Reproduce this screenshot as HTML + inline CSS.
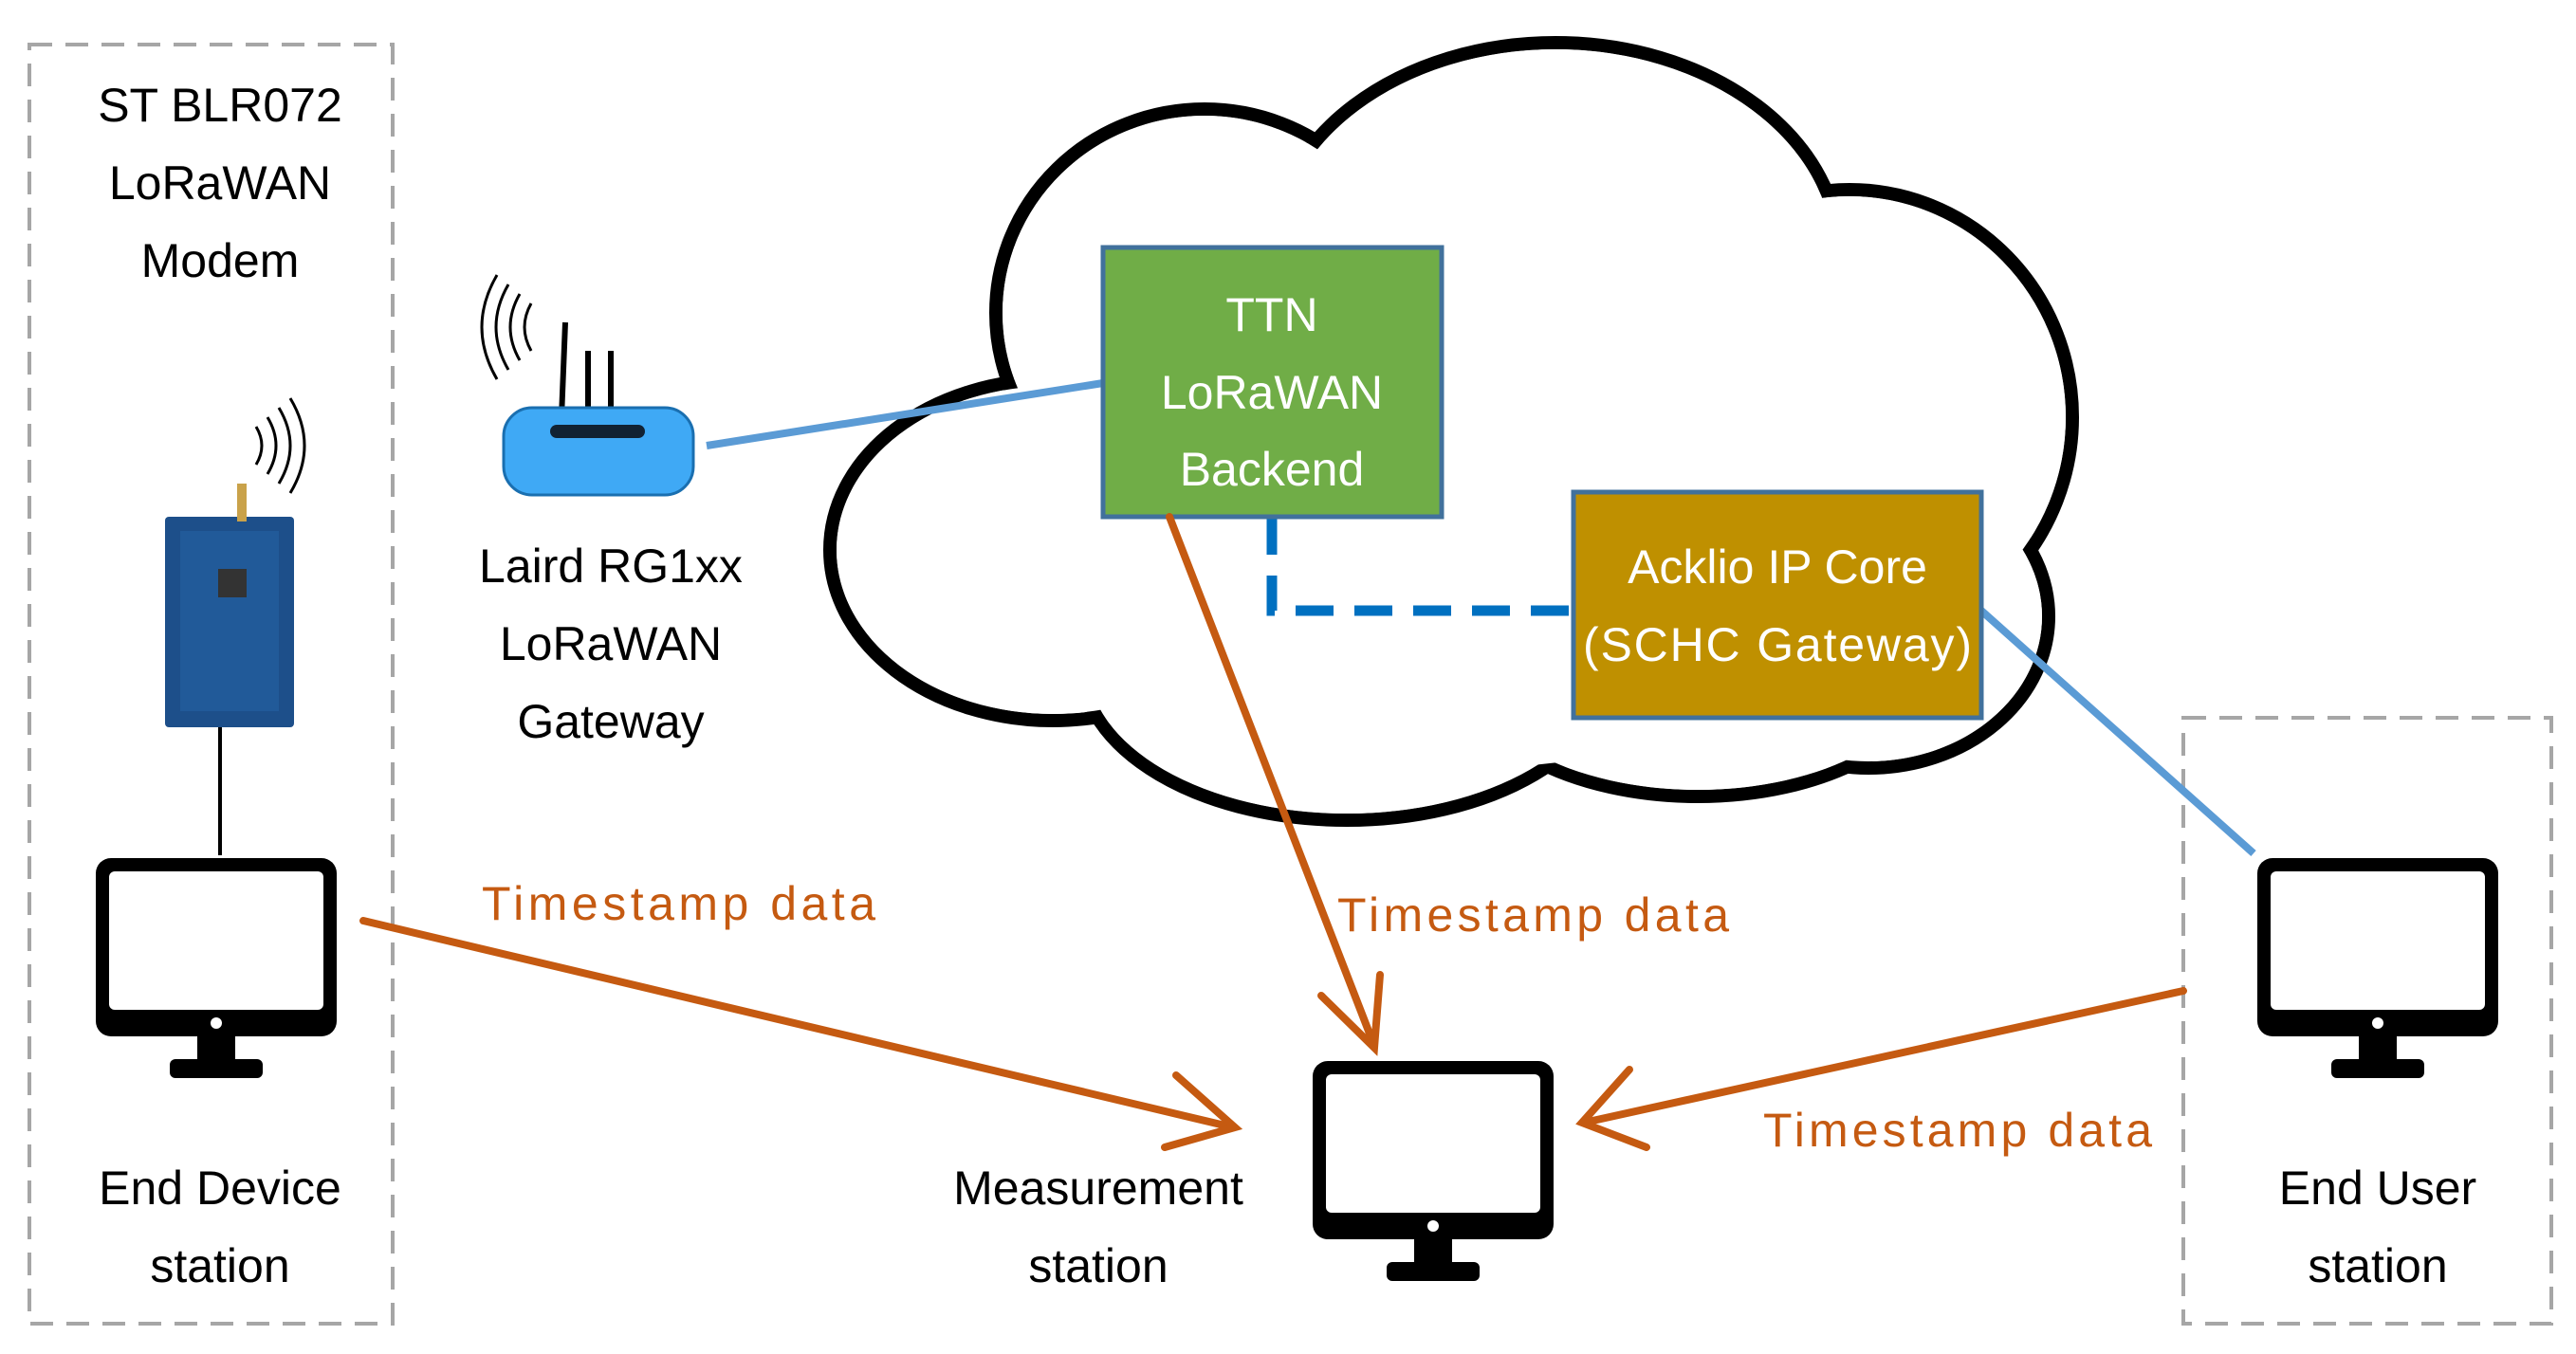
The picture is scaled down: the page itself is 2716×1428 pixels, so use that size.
<!DOCTYPE html>
<html><head><meta charset="utf-8"><style>
html,body{margin:0;padding:0;background:#fff;}
svg{display:block;}
text{font-family:"Liberation Sans",sans-serif;}
</style></head><body>
<svg width="2716" height="1428" viewBox="0 0 2716 1428" xmlns="http://www.w3.org/2000/svg">
<defs>
<g id="mon">
  <rect x="0" y="0" width="254" height="188" rx="16" fill="#000"/>
  <rect x="14" y="14" width="226" height="146" rx="6" fill="#fff"/>
  <circle cx="127" cy="174" r="6" fill="#fff"/>
  <rect x="107" y="188" width="40" height="28" fill="#000"/>
  <rect x="78" y="212" width="98" height="20" rx="6" fill="#000"/>
</g>
</defs>

<rect x="31" y="47" width="383" height="1349" fill="none" stroke="#a6a6a6" stroke-width="4" stroke-dasharray="24,14"/>
<rect x="2302" y="757" width="388" height="639" fill="none" stroke="#a6a6a6" stroke-width="4" stroke-dasharray="24,14"/>

<g stroke="#000" stroke-width="14" fill="#fff">
  <ellipse cx="1110" cy="580" rx="235" ry="180"/>
  <ellipse cx="1270" cy="330" rx="220" ry="215"/>
  <ellipse cx="1640" cy="270" rx="300" ry="225"/>
  <ellipse cx="1950" cy="440" rx="235" ry="240"/>
  <ellipse cx="1970" cy="650" rx="190" ry="160"/>
  <ellipse cx="1790" cy="700" rx="250" ry="140"/>
  <ellipse cx="1420" cy="700" rx="280" ry="165"/>
</g>
<g fill="#fff">
  <ellipse cx="1110" cy="580" rx="228" ry="173"/>
  <ellipse cx="1270" cy="330" rx="213" ry="208"/>
  <ellipse cx="1640" cy="270" rx="293" ry="218"/>
  <ellipse cx="1950" cy="440" rx="228" ry="233"/>
  <ellipse cx="1970" cy="650" rx="183" ry="153"/>
  <ellipse cx="1790" cy="700" rx="243" ry="133"/>
  <ellipse cx="1420" cy="700" rx="273" ry="158"/>
  <ellipse cx="1550" cy="520" rx="460" ry="290"/>
</g>

<line x1="745" y1="470" x2="1163" y2="404" stroke="#5b9bd5" stroke-width="8"/>
<line x1="2089" y1="644" x2="2376" y2="900" stroke="#5b9bd5" stroke-width="8"/>
<polyline points="1341,545 1341,644 1659,644" fill="none" stroke="#0070c0" stroke-width="11" stroke-dasharray="40,22"/>

<rect x="1163" y="261" width="357" height="284" fill="#70ad47" stroke="#41719c" stroke-width="5"/>
<text x="1341" y="349" font-size="50" fill="#fff" text-anchor="middle">TTN</text>
<text x="1341" y="431" font-size="50" fill="#fff" text-anchor="middle">LoRaWAN</text>
<text x="1341" y="512" font-size="50" fill="#fff" text-anchor="middle">Backend</text>
<rect x="1659" y="519" width="430" height="238" fill="#bf9000" stroke="#41719c" stroke-width="5"/>
<text x="1874" y="615" font-size="50" fill="#fff" text-anchor="middle">Acklio IP Core</text>
<text x="1874" y="697" font-size="50" fill="#fff" text-anchor="middle" textLength="410">(SCHC Gateway)</text>

<g stroke="#c55a11" stroke-width="8" fill="none" stroke-linecap="round">
  <line x1="383" y1="971" x2="1300" y2="1189"/>
  <polyline points="1240,1134 1302,1189 1228,1210"/>
  <line x1="1233" y1="545" x2="1449" y2="1103"/>
  <polyline points="1393,1050 1449,1105 1455,1028"/>
  <line x1="2302" y1="1045" x2="1670" y2="1184"/>
  <polyline points="1718,1128 1668,1184 1736,1210"/>
</g>
<text x="508" y="970" font-size="50" fill="#c55a11" textLength="415">Timestamp data</text>
<text x="1410" y="982" font-size="50" fill="#c55a11" textLength="413">Timestamp data</text>
<text x="1859" y="1209" font-size="50" fill="#c55a11" textLength="410">Timestamp data</text>

<g font-size="50" fill="#000" text-anchor="middle">
  <text x="232" y="128">ST BLR072</text>
  <text x="232" y="210">LoRaWAN</text>
  <text x="232" y="292">Modem</text>
  <text x="232" y="1270">End Device</text>
  <text x="232" y="1352">station</text>
  <text x="644" y="614">Laird RG1xx</text>
  <text x="644" y="696">LoRaWAN</text>
  <text x="644" y="778">Gateway</text>
  <text x="1158" y="1270">Measurement</text>
  <text x="1158" y="1352">station</text>
  <text x="2507" y="1270">End User</text>
  <text x="2507" y="1352">station</text>
</g>

<line x1="232" y1="766" x2="232" y2="902" stroke="#000" stroke-width="4"/>
<rect x="174" y="545" width="136" height="222" rx="4" fill="#1d4f8a"/>
<rect x="190" y="560" width="104" height="190" fill="#24609f" opacity="0.7"/>
<rect x="230" y="600" width="30" height="30" fill="#333"/>
<rect x="250" y="510" width="10" height="40" fill="#c9a24a"/>
<g fill="none" stroke="#000" stroke-width="3">
  <path d="M270 450 q12 20 0 40"/><path d="M282 440 q18 30 0 60"/><path d="M294 430 q24 40 0 80"/><path d="M306 420 q30 50 0 100"/>
</g>

<g stroke="#000" stroke-width="6"><line x1="592" y1="440" x2="596" y2="340"/><line x1="620" y1="440" x2="620" y2="370"/><line x1="644" y1="440" x2="644" y2="370"/></g>
<rect x="531" y="430" width="200" height="92" rx="30" fill="#3fa9f5" stroke="#1a6fb0" stroke-width="3"/>
<rect x="580" y="448" width="100" height="14" rx="7" fill="#123"/>
<g fill="none" stroke="#000" stroke-width="3">
  <path d="M560 320 q-14 25 0 50"/><path d="M548 310 q-20 35 0 70"/><path d="M536 300 q-26 45 0 90"/><path d="M524 290 q-32 55 0 110"/>
</g>

<use href="#mon" x="101" y="905"/>
<use href="#mon" x="1384" y="1119"/>
<use href="#mon" x="2380" y="905"/>
</svg>
</body></html>
